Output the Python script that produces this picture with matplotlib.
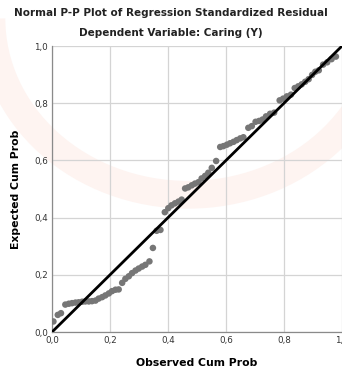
import matplotlib.pyplot as plt
from matplotlib.patches import Arc

# valeurs (P-P plot des residus standardises)
observed = [0.005, 0.020, 0.031, 0.046, 0.058, 0.069, 0.081, 0.092, 0.104, 0.115,
            0.127, 0.138, 0.150, 0.161, 0.173, 0.184, 0.196, 0.207, 0.219, 0.230,
            0.242, 0.253, 0.265, 0.276, 0.288, 0.299, 0.311, 0.322, 0.336, 0.348,
            0.361, 0.374, 0.389, 0.401, 0.412, 0.424, 0.436, 0.447, 0.459, 0.470,
            0.482, 0.493, 0.505, 0.516, 0.528, 0.539, 0.551, 0.566, 0.580, 0.591,
            0.603, 0.614, 0.626, 0.637, 0.649, 0.660, 0.677, 0.689, 0.702, 0.714,
            0.726, 0.738, 0.752, 0.766, 0.785, 0.797, 0.810, 0.824, 0.837, 0.849,
            0.861, 0.873, 0.885, 0.897, 0.908, 0.920, 0.935, 0.949, 0.964, 0.979]
expected = [0.037, 0.060, 0.066, 0.096, 0.099, 0.101, 0.103, 0.104, 0.106, 0.107,
            0.107, 0.108, 0.110, 0.117, 0.122, 0.128, 0.135, 0.143, 0.148, 0.149,
            0.172, 0.186, 0.195, 0.206, 0.215, 0.222, 0.229, 0.235, 0.247, 0.294,
            0.354, 0.357, 0.419, 0.433, 0.443, 0.450, 0.456, 0.463, 0.502, 0.506,
            0.513, 0.519, 0.524, 0.537, 0.546, 0.557, 0.574, 0.598, 0.647, 0.650,
            0.655, 0.660, 0.665, 0.671, 0.677, 0.681, 0.714, 0.720, 0.735, 0.738,
            0.743, 0.754, 0.763, 0.767, 0.810, 0.816, 0.824, 0.830, 0.853, 0.859,
            0.866, 0.875, 0.884, 0.899, 0.910, 0.915, 0.935, 0.943, 0.954, 0.963]
ticks = [0.0, 0.2, 0.4, 0.6, 0.8, 1.0]
tick_labels = ["0,0", "0,2", "0,4", "0,6", "0,8", "1,0"]

fig = plt.figure(figsize=(3.42, 3.71), dpi=100)

# filigrane tres leger en arriere-plan
fig.patches.append(Arc((0.55, 0.95), 1.15, 0.95, theta1=180, theta2=360,
                       transform=fig.transFigure, color="#fef4f1", lw=20,
                       zorder=-1))

ax = fig.add_axes([0.152, 0.105, 0.848, 0.771])
ax.patch.set_alpha(0)

ax.scatter(observed, expected, s=22, color="#767676", edgecolors="none", zorder=3)
ax.plot([0, 1], [0, 1], color="black", lw=2.0, zorder=4)

ax.set_xlim(0, 1)
ax.set_ylim(0, 1)
ax.set_xticks(ticks)
ax.set_xticklabels(tick_labels)
ax.set_yticks(ticks)
ax.set_yticklabels(tick_labels)
ax.tick_params(length=0, labelsize=6.3, labelcolor="#333333", pad=3)
ax.grid(color="#d4d4d4", lw=0.9)
ax.set_axisbelow(True)
for side in ["top", "right"]:
    ax.spines[side].set_visible(False)
for side in ["left", "bottom"]:
    ax.spines[side].set_color("#8a8a8a")
    ax.spines[side].set_linewidth(0.9)

ax.set_xlabel("Observed Cum Prob", fontsize=7.8, fontweight="bold", labelpad=9)
ax.set_ylabel("Expected Cum Prob", fontsize=7.8, fontweight="bold", labelpad=9)

fig.text(0.5, 0.966, "Normal P-P Plot of Regression Standardized Residual",
         ha="center", va="center", fontsize=7.5, fontweight="bold", color="#222222")
fig.text(0.5, 0.91, "Dependent Variable: Caring (Y)",
         ha="center", va="center", fontsize=7.5, fontweight="bold", color="#222222")

fig.savefig("out.png", dpi=100)
